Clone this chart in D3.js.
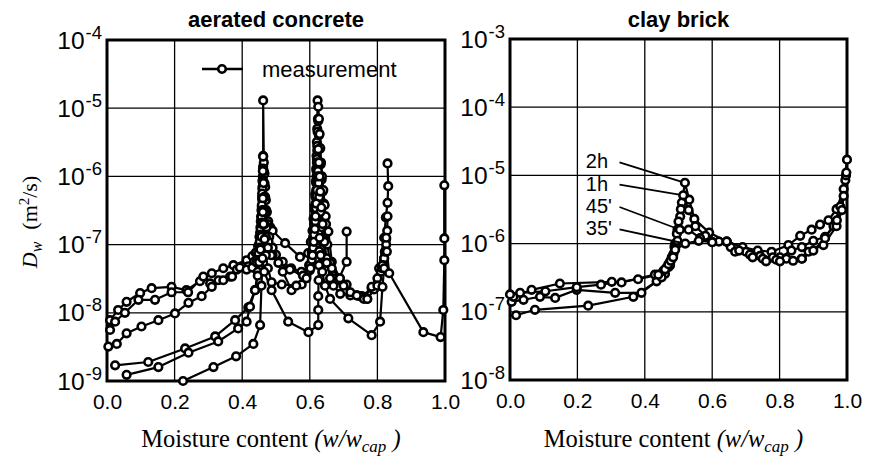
<!DOCTYPE html>
<html><head><meta charset="utf-8">
<script src="https://cdn.jsdelivr.net/npm/d3@7"></script>
<style>body{margin:0;background:#fff}</style>
</head><body><svg id="c" width="870" height="463" xmlns="http://www.w3.org/2000/svg"></svg>
<script>
// ---------------- DATA ----------------
// aerated concrete: moisture content (w/wcap) and Dw (m2/s)
const acA_m = [0.009,0.033,0.058,0.098,0.132,0.191,0.235,0.275,0.31,0.344,0.374,0.413,0.43,0.44,0.447,0.451,0.454,0.456,0.458,0.459,0.46,0.461,0.462,0.462,0.462,0.464,0.466,0.468,0.47,0.473,0.477,0.483,0.49,0.527,0.571,0.595,0.603,0.608,0.611,0.614,0.616,0.618,0.619,0.62,0.621,0.622,0.623,0.625,0.627,0.629,0.632,0.635,0.638,0.642,0.647,0.655,0.665,0.689,0.709,0.739,0.754,0.783,0.805,0.82,0.825,0.83,0.832,0.83];
const acA_D = [7.8e-9,1.1e-8,1.45e-8,1.95e-8,2.3e-8,2.4e-8,2.15e-8,2.9e-8,3.8e-8,4.5e-8,5.0e-8,5.9e-8,6.8e-8,7.6e-8,9.5e-8,1.3e-7,1.8e-7,2.6e-7,3.6e-7,5.0e-7,7.0e-7,1.0e-6,1.4e-6,2.0e-6,1.3e-5,1.6e-6,1.1e-6,7.0e-7,4.5e-7,3.0e-7,2.2e-7,1.8e-7,1.6e-7,1.05e-7,6.6e-8,7.5e-8,1.1e-7,1.6e-7,2.4e-7,3.6e-7,5.5e-7,8.5e-7,1.3e-6,2.0e-6,3.2e-6,5.0e-6,1.3e-5,6.5e-6,4.0e-6,2.5e-6,1.5e-6,9.0e-7,6.0e-7,4.0e-7,2.6e-7,1.55e-7,5.6e-8,3.2e-8,2.6e-8,1.8e-8,1.75e-8,2.3e-8,4.5e-8,1.26e-7,2.5e-7,4.1e-7,7.2e-7,1.55e-6];

const acB_m = [0.009,0.024,0.053,0.093,0.142,0.191,0.24,0.285,0.305,0.33,0.364,0.384,0.418,0.435,0.445,0.45,0.453,0.455,0.457,0.459,0.46,0.461,0.462,0.462,0.464,0.466,0.468,0.471,0.475,0.48,0.49,0.50,0.52,0.545,0.575,0.598,0.606,0.61,0.613,0.615,0.617,0.619,0.62,0.621,0.622,0.623,0.624,0.625,0.627,0.629,0.631,0.633,0.636,0.64,0.644,0.648,0.652,0.66,0.67,0.7,0.72,0.749,0.77,0.79,0.81,0.82,0.826,0.829,0.83];
const acB_D = [5.6e-9,7.4e-9,1.0e-8,1.55e-8,1.55e-8,2.0e-8,2.0e-8,3.4e-8,2.7e-8,3.0e-8,3.4e-8,4.3e-8,4.8e-8,5.6e-8,7.0e-8,1.0e-7,1.5e-7,2.2e-7,3.2e-7,4.6e-7,6.5e-7,9.0e-7,1.3e-6,1.95e-6,1.2e-6,8.0e-7,5.0e-7,3.2e-7,2.0e-7,1.3e-7,9.0e-8,7.1e-8,5.6e-8,4.5e-8,4.0e-8,5.0e-8,8.0e-8,1.3e-7,2.0e-7,3.2e-7,5.0e-7,8.0e-7,1.2e-6,1.8e-6,2.8e-6,4.5e-6,7.0e-6,1.05e-5,7.0e-6,4.2e-6,2.6e-6,1.6e-6,1.0e-6,6.3e-7,3.8e-7,2.0e-7,1.0e-7,5.4e-8,3.2e-8,2.5e-8,1.8e-8,1.75e-8,1.6e-8,2.2e-8,4.0e-8,6.3e-8,1.2e-7,1.6e-7,2.6e-7];

const acC_m = [0.004,0.029,0.058,0.102,0.152,0.201,0.241,0.28,0.31,0.344,0.37,0.393,0.413,0.43,0.442,0.448,0.452,0.455,0.457,0.458,0.459,0.46,0.461,0.463,0.465,0.468,0.472,0.478,0.49,0.52,0.546,0.576,0.59,0.6,0.606,0.61,0.613,0.615,0.617,0.619,0.62,0.621,0.622,0.624,0.626,0.628,0.631,0.635,0.64,0.65,0.66,0.684,0.709,0.709];
const acC_D = [3.2e-9,3.5e-9,5.0e-9,6.3e-9,7.8e-9,9.8e-9,1.4e-8,1.75e-8,2.4e-8,3.0e-8,3.4e-8,4.6e-8,4.3e-8,4.6e-8,5.5e-8,7.5e-8,1.1e-7,1.7e-7,2.5e-7,3.8e-7,5.6e-7,8.5e-7,1.2e-6,8.0e-7,5.0e-7,3.0e-7,1.8e-7,1.1e-7,7.0e-8,4.0e-8,2.15e-8,2.6e-8,3.5e-8,5.0e-8,7.5e-8,1.1e-7,1.7e-7,2.6e-7,4.0e-7,6.3e-7,1.0e-6,1.6e-6,2.4e-6,1.5e-6,9.0e-7,5.5e-7,3.3e-7,2.0e-7,1.2e-7,6.3e-8,3.2e-8,3.0e-8,5.6e-8,1.55e-7];

const acD_m = [0.024,0.122,0.231,0.32,0.379,0.418,0.438,0.446,0.45,0.453,0.456,0.458,0.46,0.461,0.463,0.466,0.47,0.476,0.485,0.507,0.541,0.58,0.6,0.606,0.61,0.613,0.616,0.618,0.62,0.622,0.624,0.626,0.628,0.631,0.635,0.64,0.65,0.665,0.689,0.72,0.749,0.76,0.783,0.8,0.813,0.82,0.826];
const acD_D = [1.7e-9,1.9e-9,3.0e-9,4.5e-9,7.8e-9,1.2e-8,2.15e-8,4.0e-8,6.0e-8,9.0e-8,1.4e-7,2.1e-7,3.2e-7,4.8e-7,3.2e-7,2.0e-7,1.3e-7,9.0e-8,7.0e-8,5.4e-8,4.3e-8,3.5e-8,4.2e-8,6.0e-8,9.0e-8,1.4e-7,2.2e-7,3.4e-7,5.2e-7,8.0e-7,1.2e-6,8.0e-7,5.0e-7,3.0e-7,1.8e-7,1.1e-7,5.4e-8,4.5e-8,3.2e-8,2.0e-8,1.75e-8,1.6e-8,2.4e-8,3.2e-8,4.5e-8,6.3e-8,1.0e-7];

const acE_m = [0.058,0.152,0.241,0.329,0.388,0.413,0.423,0.438,0.446,0.45,0.454,0.457,0.459,0.461,0.463,0.466,0.47,0.476,0.487,0.517,0.56,0.59,0.602,0.608,0.612,0.615,0.617,0.619,0.621,0.623,0.624,0.625,0.627,0.629,0.631,0.634,0.638,0.643,0.65,0.67,0.69,0.739,0.77,0.8,0.815,0.822,0.826];
const acE_D = [1.23e-9,1.6e-9,2.6e-9,3.8e-9,5.9e-9,7.4e-9,1.23e-8,2.15e-8,3.5e-8,5.5e-8,8.5e-8,1.3e-7,2.0e-7,3.0e-7,2.0e-7,1.2e-7,7.0e-8,4.5e-8,2.8e-8,2.6e-8,2.5e-8,3.2e-8,4.5e-8,7.0e-8,1.1e-7,1.7e-7,2.6e-7,4.0e-7,6.3e-7,1.0e-6,1.6e-6,2.5e-6,1.6e-6,1.0e-6,6.0e-7,3.5e-7,2.0e-7,1.1e-7,5.4e-8,2.5e-8,1.9e-8,1.8e-8,1.6e-8,2.5e-8,5.0e-8,7.9e-8,1.26e-7];

const acF_m = [0.225,0.315,0.382,0.433,0.453,0.457,0.46,0.465,0.487,0.536,0.596,0.625,0.625,0.625,0.626,0.627,0.628,0.629,0.632,0.637,0.645,0.66,0.714,0.783,0.808,0.815,0.82,0.828,0.835,0.936,0.987,0.995,0.998,0.998,0.998];
const acF_D = [1.0e-9,1.6e-9,2.3e-9,3.5e-9,6.6e-9,2.5e-8,6.3e-8,4.0e-8,2.15e-8,7.4e-9,5.2e-9,6.6e-9,1.1e-8,1.75e-8,3.0e-8,5.0e-8,8.0e-8,1.26e-7,7.0e-8,4.0e-8,2.5e-8,1.6e-8,8.3e-9,4.7e-9,7.4e-9,2.4e-8,4.5e-8,7.9e-8,3.8e-8,5.2e-9,4.4e-9,1.1e-8,5.9e-8,1.23e-7,7.4e-7];

// clay brick
const cb2h_m = [0.018,0.074,0.232,0.366,0.435,0.46,0.475,0.483,0.49,0.497,0.505,0.51,0.519,0.532,0.547,0.591,0.643,0.69,0.735,0.776,0.826,0.861,0.895,0.92,0.945,0.969,0.99,1.0];
const cb2h_D = [8.9e-8,1.07e-7,1.23e-7,1.66e-7,2.8e-7,3.6e-7,4.8e-7,6.5e-7,1.0e-6,1.6e-6,2.5e-6,4.0e-6,7.8e-6,4.4e-6,2.3e-6,1.45e-6,1.07e-6,8.9e-7,7.9e-7,7.6e-7,9.5e-7,1.3e-6,1.6e-6,1.9e-6,2.2e-6,3.2e-6,6.3e-6,1.7e-5];
const cb1h_m = [0.005,0.04,0.089,0.134,0.198,0.312,0.39,0.45,0.47,0.48,0.488,0.495,0.5,0.507,0.514,0.53,0.55,0.58,0.62,0.655,0.7,0.742,0.78,0.801,0.835,0.866,0.9,0.935,0.96,0.98,0.995];
const cb1h_D = [1.4e-7,1.5e-7,1.66e-7,1.6e-7,2.1e-7,1.9e-7,1.9e-7,3.2e-7,4.5e-7,6.3e-7,9.0e-7,1.4e-6,2.1e-6,3.2e-6,5.1e-6,3.1e-6,1.8e-6,1.3e-6,1.07e-6,8.9e-7,7.6e-7,6.6e-7,6.3e-7,6.3e-7,7.9e-7,8.9e-7,1.1e-6,1.26e-6,1.8e-6,3.5e-6,8.5e-6];
const cb45_m = [0.01,0.064,0.148,0.302,0.331,0.43,0.455,0.465,0.475,0.485,0.49,0.497,0.504,0.53,0.564,0.6,0.643,0.668,0.712,0.75,0.79,0.82,0.866,0.886,0.93,0.969,0.985,0.997];
const cb45_D = [1.66e-7,2.1e-7,2.6e-7,2.75e-7,2.7e-7,3.5e-7,4.0e-7,4.5e-7,5.5e-7,7.1e-7,8.5e-7,1.1e-6,1.6e-6,1.6e-6,1.2e-6,1.05e-6,1.07e-6,7.6e-7,6.9e-7,6.0e-7,5.8e-7,6.0e-7,6.0e-7,7.6e-7,9.5e-7,1.8e-6,3.1e-6,1.0e-5];
const cb35_m = [0.0,0.03,0.105,0.198,0.27,0.38,0.44,0.46,0.47,0.477,0.484,0.49,0.52,0.56,0.6,0.643,0.68,0.72,0.76,0.801,0.84,0.866,0.9,0.935,0.97,0.99,0.998];
const cb35_D = [1.8e-7,1.9e-7,2.0e-7,2.3e-7,2.5e-7,3.0e-7,3.5e-7,4.2e-7,5.0e-7,5.6e-7,6.3e-7,8.1e-7,1.0e-6,1.1e-6,1.05e-6,1.07e-6,7.9e-7,6.3e-7,5.5e-7,5.5e-7,5.6e-7,6.0e-7,7.9e-7,1.2e-6,2.2e-6,5.0e-6,1.1e-5];
const cbLabels = ["2h","1h","45'","35'"];

// axes
const xTickVals = [0,0.2,0.4,0.6,0.8,1.0];
const xTickLabels = ["0.0","0.2","0.4","0.6","0.8","1.0"];
const acYTicks = [1e-9,1e-8,1e-7,1e-6,1e-5,1e-4];
const acYExp = ["-9","-8","-7","-6","-5","-4"];
const cbYTicks = [1e-8,1e-7,1e-6,1e-5,1e-4,1e-3];
const cbYExp = ["-8","-7","-6","-5","-4","-3"];

// ---------------- DRAW ----------------
const SANS = "Arial, 'Liberation Sans', Helvetica, sans-serif";
const SERIF = "'Liberation Serif','Times New Roman',serif";
const svg = d3.select("#c");
svg.append("rect").attr("width",870).attr("height",463).attr("fill","#fff");

function zip(m, D){ return m.map((v,i)=>({m:v, D:D[i]})); }

function panel(o){
  const x = d3.scaleLinear().domain([0,1]).range(o.xr);
  const y = d3.scaleLog().domain(o.yd).range(o.yr);
  const g = svg.append("g");
  // grid
  g.selectAll(".gx").data(xTickVals.slice(1,-1)).join("line")
    .attr("x1",d=>x(d)).attr("x2",d=>x(d)).attr("y1",o.yr[0]).attr("y2",o.yr[1])
    .attr("stroke","#000").attr("stroke-width",1.3);
  g.selectAll(".gy").data(o.yt.slice(1,-1)).join("line")
    .attr("y1",d=>y(d)).attr("y2",d=>y(d)).attr("x1",o.xr[0]).attr("x2",o.xr[1])
    .attr("stroke","#000").attr("stroke-width",1.3);
  // frame
  g.append("rect").attr("x",o.xr[0]).attr("y",o.yr[1]).attr("width",o.xr[1]-o.xr[0]).attr("height",o.yr[0]-o.yr[1])
    .attr("fill","none").attr("stroke","#000").attr("stroke-width",3);
  // x axis labels via d3 axis
  const xa = d3.axisBottom(x).tickValues(xTickVals).tickFormat((d,i)=>xTickLabels[i]).tickSize(0).tickPadding(13);
  const gx = g.append("g").attr("transform",`translate(0,${o.yr[0]})`).call(xa);
  gx.select(".domain").remove();
  gx.selectAll("text").attr("font-family",SANS).attr("font-size",21).attr("fill","#000");
  // y axis labels via d3 axis
  const ya = d3.axisLeft(y).tickValues(o.yt).tickFormat(()=> "").tickSize(0);
  const gy = g.append("g").attr("transform",`translate(${o.xr[0]},0)`).call(ya);
  gy.select(".domain").remove();
  gy.selectAll(".tick").each(function(d,i){
    const t = d3.select(this).append("text").attr("x",-5).attr("y",8).attr("text-anchor","end")
      .attr("font-family",SANS).attr("fill","#000");
    t.append("tspan").attr("font-size",24.5).text("10");
    t.append("tspan").attr("font-size",18.5).attr("dx",1).attr("dy",-10).text(o.exp[i]);
  });
  // series
  const line = d3.line().x(d=>x(d.m)).y(d=>y(d.D));
  o.series.forEach(s=>{
    g.append("path").datum(s).attr("d",line).attr("fill","none").attr("stroke","#000").attr("stroke-width",2.2).attr("stroke-linejoin","round");
  });
  o.series.forEach(s=>{
    g.selectAll(null).data(s).join("circle").attr("cx",d=>x(d.m)).attr("cy",d=>y(d.D)).attr("r",3.8)
      .attr("fill","#fff").attr("stroke","#000").attr("stroke-width",2.6);
  });
  // title
  svg.append("text").attr("x",(o.xr[0]+o.xr[1])/2).attr("y",27).attr("text-anchor","middle")
    .attr("font-family",SANS).attr("font-weight","bold").attr("font-size",22).text(o.title);
  // x axis title
  const xt = svg.append("text").attr("x",(o.xr[0]+o.xr[1])/2 - 5).attr("y",447).attr("text-anchor","middle")
    .attr("font-family",SERIF).attr("font-size",24.5);
  xt.append("tspan").text("Moisture content ");
  xt.append("tspan").attr("font-style","italic").text("(w/w");
  xt.append("tspan").attr("font-style","italic").attr("font-size",17).attr("dy",5).text("cap");
  xt.append("tspan").attr("font-style","italic").attr("dy",-5).text(" )");
  return {x,y};
}

const L = panel({xr:[107,445], yr:[381,40], yd:[1e-9,1e-4], yt:acYTicks, exp:acYExp, title:"aerated concrete",
  series:[zip(acA_m,acA_D),zip(acB_m,acB_D),zip(acC_m,acC_D),zip(acD_m,acD_D),zip(acE_m,acE_D),zip(acF_m,acF_D)]});
const cbSeries = [zip(cb2h_m,cb2h_D),zip(cb1h_m,cb1h_D),zip(cb45_m,cb45_D),zip(cb35_m,cb35_D)];
const R = panel({xr:[510,847], yr:[380,39], yd:[1e-8,1e-3], yt:cbYTicks, exp:cbYExp, title:"clay brick", series:cbSeries});

// legend (left panel)
const lgY = 69;
svg.append("line").attr("x1",202).attr("x2",243).attr("y1",lgY).attr("y2",lgY).attr("stroke","#000").attr("stroke-width",2.6);
svg.append("circle").attr("cx",222).attr("cy",lgY).attr("r",3.8).attr("fill","#fff").attr("stroke","#000").attr("stroke-width",2.6);
svg.append("text").attr("x",262).attr("y",77).attr("font-family",SANS).attr("font-size",22).text("measurement");

// clay brick curve labels with pointers to each curve's peak
cbSeries.forEach((s,i)=>{
  const peak = s.reduce((a,b)=> (b.m>0.45 && b.m<0.56 && b.D>a.D) ? b : a, {m:0,D:0});
  const ty = R.y(1e-5) - 7 + i*22.3;
  svg.append("text").attr("x",R.x(0.225)).attr("y",ty).attr("font-family",SANS).attr("font-size",20).text(cbLabels[i]);
  const x1 = R.x(0.325), y1 = ty - 6;
  const x2 = R.x(peak.m), y2 = R.y(peak.D);
  const dx = x2-x1, dy = y2-y1, len = Math.hypot(dx,dy);
  svg.append("line").attr("x1",x1).attr("y1",y1).attr("x2",x2 - dx/len*4).attr("y2",y2 - dy/len*4)
    .attr("stroke","#000").attr("stroke-width",1.8);
});

// y axis title
const yl = svg.append("text").attr("transform","translate(37,222) rotate(-90)").attr("text-anchor","middle")
  .attr("font-family",SERIF).attr("font-size",22);
yl.append("tspan").attr("font-style","italic").text("D");
yl.append("tspan").attr("font-style","italic").attr("font-size",16).attr("dy",5).text("w");
yl.append("tspan").attr("dy",-5).attr("dx",12).text("(m");
yl.append("tspan").attr("font-size",15).attr("dy",-8).text("2");
yl.append("tspan").attr("dy",8).text("/s)");
</script>
</body></html>
